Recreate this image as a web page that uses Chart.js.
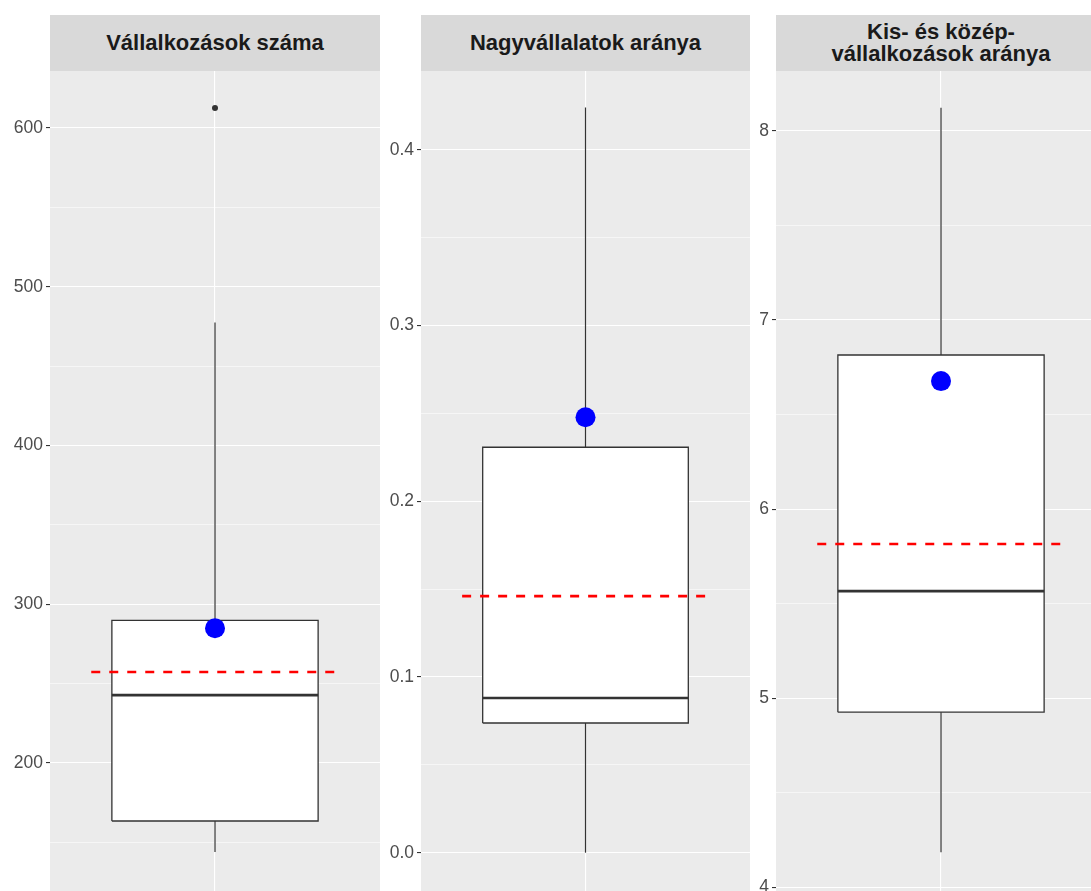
<!DOCTYPE html>
<html>
<head>
<meta charset="utf-8">
<script src="https://cdn.jsdelivr.net/npm/chart.js@4.4.0/dist/chart.umd.min.js"></script>
<style>
  html, body { margin: 0; padding: 0; background: #fff; overflow: hidden; width: 1091px; height: 891px; }
  .strip {
    position: absolute; top: 15px; height: 56px; background: #D9D9D9; color: #1A1A1A;
    font: bold 22px "Liberation Sans", Arial, sans-serif; line-height: 22px;
    display: flex; align-items: center; justify-content: center; text-align: center;
  }
  canvas { position: absolute; top: 71px; }
</style>
</head>
<body>
<div id="strip0" class="strip"></div>
<div id="strip1" class="strip"></div>
<div id="strip2" class="strip"></div>
<canvas id="panel0"></canvas>
<canvas id="panel1"></canvas>
<canvas id="panel2"></canvas>
<script>
// Facet data (one entry per panel)
const facetTitles = [['Vállalkozások száma'], ['Nagyvállalatok aránya'], ['Kis- és közép-', 'vállalkozások aránya']];
const whiskerLow = [144, 0.0, 4.185];
const boxQ1 = [163.5, 0.0738, 4.926];
const boxMedian = [242.8, 0.088, 5.566];
const boxQ3 = [289.9, 0.2307, 6.815];
const whiskerHigh = [477.5, 0.424, 8.122];
const outliers = [[612.6], [], []];
const meanValues = [257.3, 0.146, 5.815];
const highlightValues = [284.9, 0.2478, 6.677];

// Axis ticks
const majorTicks = [[200, 300, 400, 500, 600], [0, 0.1, 0.2, 0.3, 0.4], [4, 5, 6, 7, 8]];
const minorTicks = [[150, 250, 350, 450, 550], [0.05, 0.15, 0.25, 0.35], [4.5, 5.5, 6.5, 7.5]];
const axisMin = [119.4, -0.0218, 3.980];
const axisMax = [635.9, 0.4448, 8.317];
const tickDecimals = [0, 1, 0];

// Layout
const panelLeft = [0, 380, 750];
const panelWidth = [380, 370, 356];
const axisWidth = [50, 41, 26];
const panelHeight = 820;
const boxWidth = 0.75;
const meanWidth = 0.9;

// Grey panel background
const panelBg = {
  id: 'panelBg',
  beforeDraw(chart) {
    const { ctx, chartArea: a } = chart;
    ctx.save();
    ctx.fillStyle = '#EBEBEB';
    ctx.fillRect(a.left, a.top, a.width, a.height);
    ctx.restore();
  }
};

function makePanel(i) {
  // Strip header
  const strip = document.getElementById('strip' + i);
  strip.innerHTML = facetTitles[i].join('<br>');
  strip.style.left = (panelLeft[i] + axisWidth[i]) + 'px';
  strip.style.width = (panelWidth[i] - axisWidth[i]) + 'px';

  const canvas = document.getElementById('panel' + i);
  canvas.width = panelWidth[i];
  canvas.height = panelHeight;
  canvas.style.left = panelLeft[i] + 'px';

  const majors = majorTicks[i];
  const allTicks = majors.concat(minorTicks[i]).sort((a, b) => a - b);
  const isMajor = v => majors.some(m => Math.abs(m - v) < 1e-9);
  const bl = 1 - boxWidth / 2, br = 1 + boxWidth / 2;
  const ml = 1 - meanWidth / 2, mr = 1 + meanWidth / 2;

  new Chart(canvas, {
    type: 'line',
    data: {
      datasets: [
        {
          // box fill
          data: [{ x: bl, y: boxQ3[i] }, { x: br, y: boxQ3[i] }],
          fill: { value: boxQ1[i] }, backgroundColor: '#FFFFFF',
          borderColor: 'rgba(0,0,0,0)', borderWidth: 0, pointRadius: 0, order: 7
        },
        {
          // lower whisker
          data: [{ x: 1, y: whiskerLow[i] }, { x: 1, y: boxQ1[i] }],
          borderColor: '#333333', borderWidth: 1.2, pointRadius: 0, order: 6
        },
        {
          // upper whisker
          data: [{ x: 1, y: boxQ3[i] }, { x: 1, y: whiskerHigh[i] }],
          borderColor: '#333333', borderWidth: 1.2, pointRadius: 0, order: 6
        },
        {
          // box outline
          data: [
            { x: bl, y: boxQ1[i] }, { x: bl, y: boxQ3[i] }, { x: br, y: boxQ3[i] },
            { x: br, y: boxQ1[i] }, { x: bl, y: boxQ1[i] }
          ],
          borderColor: '#333333', borderWidth: 1.3, pointRadius: 0, order: 5
        },
        {
          // median
          data: [{ x: bl, y: boxMedian[i] }, { x: br, y: boxMedian[i] }],
          borderColor: '#333333', borderWidth: 2.6, pointRadius: 0, order: 4
        },
        {
          // outliers
          data: outliers[i].map(v => ({ x: 1, y: v })),
          showLine: false, pointRadius: 3, pointBackgroundColor: '#333333',
          pointBorderWidth: 0, order: 3
        },
        {
          // mean
          data: [{ x: ml, y: meanValues[i] }, { x: mr, y: meanValues[i] }],
          borderColor: '#FF0000', borderWidth: 2.6, borderDash: [9, 9], pointRadius: 0, order: 2
        },
        {
          // highlighted value
          data: [{ x: 1, y: highlightValues[i] }],
          showLine: false, pointRadius: 10, pointBackgroundColor: '#0000FF',
          pointBorderWidth: 0, order: 1
        }
      ]
    },
    options: {
      responsive: false,
      animation: false,
      devicePixelRatio: 1,
      layout: { padding: 0, autoPadding: false },
      events: [],
      elements: { line: { tension: 0 } },
      plugins: { legend: { display: false }, tooltip: { enabled: false } },
      scales: {
        x: {
          type: 'linear', min: 0.4, max: 1.6,
          afterBuildTicks: s => { s.ticks = [{ value: 1 }]; },
          afterFit: s => { s.height = 0; s.paddingLeft = 0; s.paddingRight = 0; },
          ticks: { display: false },
          grid: { color: '#FFFFFF', lineWidth: 1.1, drawTicks: false },
          border: { display: false }
        },
        y: {
          type: 'linear', min: axisMin[i], max: axisMax[i],
          afterBuildTicks: s => { s.ticks = allTicks.map(v => ({ value: v })); },
          afterFit: s => { s.width = axisWidth[i]; s.paddingTop = 0; s.paddingBottom = 0; },
          ticks: {
            autoSkip: false,
            callback: v => isMajor(v) ? v.toFixed(tickDecimals[i]) : '',
            color: '#4D4D4D',
            font: { family: 'Liberation Sans', size: 17.5 },
            padding: 3
          },
          grid: {
            color: '#FFFFFF',
            lineWidth: c => (c.tick && isMajor(c.tick.value)) ? 1.1 : 0.55,
            tickLength: 4,
            tickWidth: 1.1,
            tickColor: c => (c.tick && isMajor(c.tick.value)) ? '#333333' : 'rgba(0,0,0,0)'
          },
          border: { display: false }
        }
      }
    },
    plugins: [panelBg]
  });
}

[0, 1, 2].forEach(makePanel);
</script>
</body>
</html>
